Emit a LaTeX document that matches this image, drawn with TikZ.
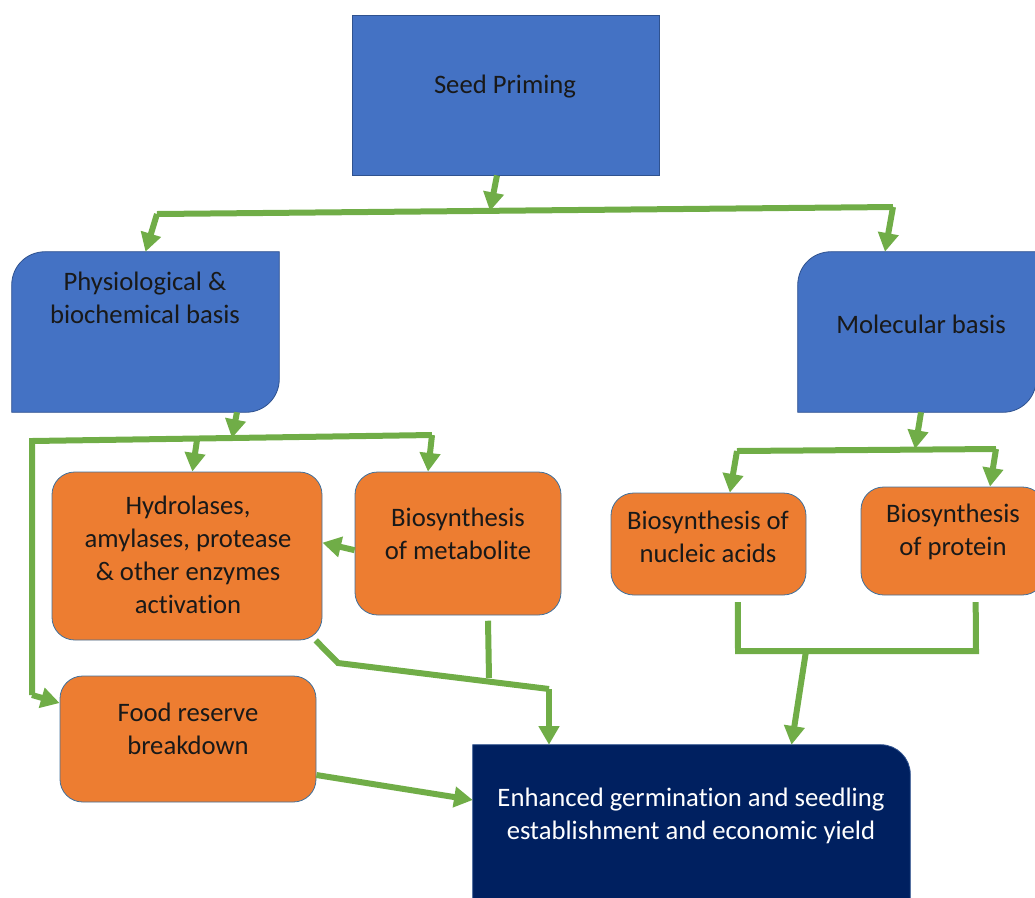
\documentclass[tikz,border=0pt]{standalone}
\usepackage{fontspec}
\setmainfont[Ligatures=CommonOff]{Carlito}
\usepackage{tikz}
\usetikzlibrary{arrows.meta}
\usetikzlibrary{positioning}
\definecolor{primeblue}{HTML}{4472C4}
\definecolor{rimblue}{HTML}{2F528F}
\definecolor{rimgrey}{HTML}{41719C}
\definecolor{basisorange}{HTML}{ED7D31}
\definecolor{yieldnavy}{HTML}{002060}
\definecolor{linkgreen}{HTML}{70AD47}
\tikzset{edge/.style = {-{Triangle[width=15pt,length=14pt]}, line width=4.5pt, linkgreen}}
\tikzset{bar/.style = {line width=4.5pt, linkgreen, line join=miter}}
\tikzset{frame/.style = {inner sep=0pt}}
\tikzset{orangebox/.style = {frame, draw=rimgrey, line width=0.6pt, fill=basisorange, rounded corners=17pt}}
\tikzset{txt/.style = {align=center, font=\fontsize{20}{24.75}\selectfont, text=black!90}}

\begin{document}
\begin{tikzpicture}[x=0.75pt, y=-0.75pt]
		\useasboundingbox (0,0) rectangle (1035,897);

		%draw the blue boxes
		\node[frame, draw=rimblue, line width=0.6pt, fill=primeblue, minimum width=230.25pt, minimum height=120pt](seed) at (505.5,95){};
		\node[frame, minimum width=200.25pt, minimum height=120pt](phys) at (145.5,332){};
		\node[frame, minimum width=178.5pt, minimum height=120pt](mol) at (917,332){};
		\filldraw[fill=primeblue, draw=rimblue, line width=0.6pt] (phys.west) -- ([yshift=-25pt]phys.north west) .. controls ([yshift=-11pt]phys.north west) and ([xshift=11pt]phys.north west) .. ([xshift=25pt]phys.north west)
			-- (phys.north east) -- ([yshift=25pt]phys.south east) .. controls ([yshift=11pt]phys.south east) and ([xshift=-11pt]phys.south east) .. ([xshift=-25pt]phys.south east) -- (phys.south west) -- cycle;
		\filldraw[fill=primeblue, draw=rimblue, line width=0.6pt] (mol.west) -- ([yshift=-25pt]mol.north west) .. controls ([yshift=-11pt]mol.north west) and ([xshift=11pt]mol.north west) .. ([xshift=25pt]mol.north west)
			-- (mol.north east) -- ([yshift=25pt]mol.south east) .. controls ([yshift=11pt]mol.south east) and ([xshift=-11pt]mol.south east) .. ([xshift=-25pt]mol.south east) -- (mol.south west) -- cycle;

		%draw the orange boxes
		\node[orangebox, minimum width=202.5pt, minimum height=126pt](hyd) at (187,556){};
		\node[orangebox, minimum width=154.5pt, minimum height=107.25pt](meta) at (458,543.5){};
		\node[orangebox, minimum width=146.25pt, minimum height=76.5pt](nuc) at (708.5,544){};
		\node[orangebox, minimum width=138pt, minimum height=81pt](prot) at (953,541){};
		\node[orangebox, minimum width=192pt, minimum height=94.5pt](food) at (188,739){};

		%draw the result box
		\node[frame, minimum width=327.75pt, minimum height=120pt](enh) at (691.5,825){};
		\filldraw[fill=yieldnavy, draw=rimblue, line width=0.6pt] (enh.south west) -- (enh.north west) -- ([xshift=-22pt]enh.north east) .. controls ([xshift=-10pt]enh.north east) and ([yshift=-10pt]enh.north east) .. ([yshift=-22pt]enh.north east) -- (enh.south east) -- cycle;

		%texts
		\node[txt](seedT) at (505,87){Seed Priming};
		\node[txt](physT) at (145,298){Physiological \&\\biochemical basis};
		\node[txt](molT) at (921,324){Molecular basis};
		\node[txt](hydT) at (188,555){Hydrolases,\\amylases, protease\\\& other enzymes\\activation};
		\node[txt](metaT) at (458,534){Biosynthesis\\of metabolite};
		\node[txt](nucT) at (708,537){Biosynthesis of\\nucleic acids};
		\node[txt](protT) at (953,532){Biosynthesis\\of protein};
		\node[txt](foodT) at (188,729){Food reserve\\breakdown};
		\node[txt, text=white](enhT) at (691,816){Enhanced germination and seedling\\establishment and economic yield};

		%junction points of the green lines
		\coordinate(b1) at (490,211);
		\coordinate(b1L) at (157,214);
		\coordinate(b1R) at (893,207);
		\coordinate(b2) at (232,438);
		\coordinate(b2L) at (32,441);
		\coordinate(b2H) at (197,440);
		\coordinate(b2R) at (432,435);
		\coordinate(b2D) at (32,695);
		\coordinate(b3) at (915,449);
		\coordinate(b3L) at (737,451);
		\coordinate(b3R) at (996,449);
		\coordinate(k1) at (338,663);
		\coordinate(k2) at (549,689);
		\coordinate(k3) at (489,678);
		\coordinate(m1) at (738,651);
		\coordinate(m2) at (976,651);
		\coordinate(m3) at (806,651);

		%seed priming to the two bases
		\draw[edge] ([xshift=-6.4pt]seed.south) -- (b1);
		\draw[bar] (b1L) -- (b1R);
		\draw[edge] (b1L) -- (phys.north);
		\draw[edge] (b1R) -- ([xshift=-24pt]mol.north);

		%physiological branch
		\draw[edge] ([xshift=68.6pt]phys.south) -- (b2);
		\draw[bar] (b2D) -- (b2L) -- (b2R);
		\draw[edge] (b2H) -- ([xshift=4pt]hyd.north);
		\draw[edge] (b2R) -- ([xshift=-22.5pt]meta.north);
		\draw[edge] (b2D) -- ([yshift=27pt]food.west);
		\draw[edge] ([yshift=-5pt]meta.west) -- ([yshift=10pt]hyd.east);
		\draw[bar] ([xshift=-5pt]hyd.south east) -- (k1) -- (k2);
		\draw[edge] (k2) -- (k2 |- enh.north);
		\draw[bar] ([xshift=22.5pt,yshift=-4pt]meta.south) -- (k3);
		\draw[edge] ([yshift=-27pt]food.east) -- ([yshift=18.75pt]enh.west);

		%molecular branch
		\draw[edge] ([xshift=3pt]mol.south) -- (b3);
		\draw[bar] (b3L) -- (b3R);
		\draw[edge] (b3L) -- ([xshift=16pt]nuc.north);
		\draw[edge] (b3R) -- ([xshift=27.75pt]prot.north);
		\draw[bar] ([xshift=22pt,yshift=-5pt]nuc.south) -- (m1) -- (m2) -- ([xshift=17pt,yshift=-5pt]prot.south);
		\draw[edge] (m3) -- ([xshift=75pt]enh.north);
\end{tikzpicture}
\end{document}
